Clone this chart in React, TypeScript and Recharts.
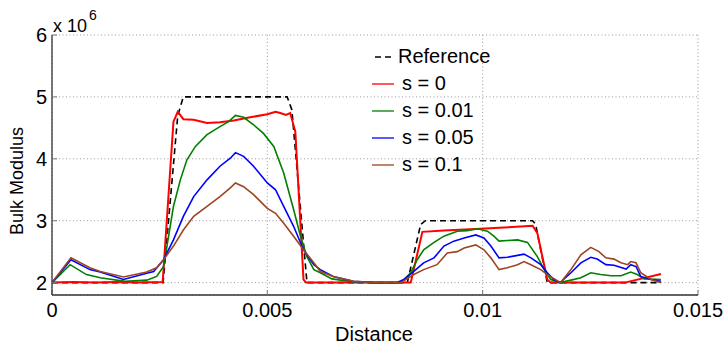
import React from "react";
import { LineChart, Line, XAxis, YAxis, CartesianGrid, Label } from "recharts";

// distances (m) and bulk modulus (x 10^6)
const refDist = [0, 0.00258, 0.00292, 0.00305, 0.00546, 0.00557, 0.00592, 0.00825, 0.00856, 0.00867, 0.01116, 0.01123, 0.0115, 0.0141];
const refVals = [2, 2, 4.7, 5, 5, 4.79, 2, 2, 2.94, 3, 3, 2.94, 2, 2];

const s0Dist = [0, 0.0005, 0.001, 0.0015, 0.002, 0.00257, 0.00282, 0.00292, 0.00305, 0.00329, 0.0036, 0.0039, 0.00422, 0.0046, 0.005, 0.00519, 0.0053, 0.00543, 0.00553, 0.00565, 0.00584, 0.0059, 0.007, 0.00833, 0.0086, 0.0091, 0.00995, 0.0105, 0.01116, 0.01127, 0.0115, 0.01158, 0.0125, 0.0133, 0.01414];
const s0Vals = [2, 2.01, 2, 2.01, 2, 2.01, 4.6, 4.76, 4.64, 4.63, 4.58, 4.59, 4.62, 4.67, 4.72, 4.76, 4.74, 4.71, 4.74, 4.44, 2.05, 2, 2, 2, 2.82, 2.84, 2.87, 2.89, 2.92, 2.8, 2.05, 2, 2, 2, 2.14];

const s001Dist = [0, 0.00042, 0.0008, 0.00112, 0.0017, 0.0022, 0.00243, 0.00259, 0.00267, 0.00282, 0.00298, 0.00313, 0.00333, 0.0036, 0.0039, 0.0041, 0.00426, 0.00445, 0.00468, 0.00491, 0.00515, 0.00538, 0.00561, 0.00577, 0.00592, 0.00608, 0.00623, 0.0065, 0.007, 0.0075, 0.0081, 0.00817, 0.00833, 0.00848, 0.00863, 0.00887, 0.0091, 0.00941, 0.00964, 0.00988, 0.01011, 0.01026, 0.01038, 0.01057, 0.01081, 0.01104, 0.01127, 0.01143, 0.01158, 0.0118, 0.01205, 0.01228, 0.01251, 0.01274, 0.01298, 0.01321, 0.01344, 0.01359, 0.01375, 0.01414];
const s001Vals = [2, 2.29, 2.13, 2.08, 2.02, 2.04, 2.1, 2.26, 2.59, 3.23, 3.66, 3.98, 4.2, 4.39, 4.52, 4.6, 4.7, 4.67, 4.55, 4.41, 4.2, 3.77, 3.18, 2.75, 2.42, 2.21, 2.16, 2.06, 2.01, 2, 2, 2.05, 2.16, 2.37, 2.53, 2.65, 2.75, 2.83, 2.84, 2.87, 2.83, 2.75, 2.67, 2.68, 2.69, 2.65, 2.42, 2.21, 2.05, 2, 2.04, 2.08, 2.16, 2.13, 2.11, 2.11, 2.17, 2.13, 2.06, 2.05];

const s005Dist = [0, 0.00044, 0.00088, 0.00112, 0.00166, 0.0022, 0.00236, 0.00259, 0.00282, 0.00305, 0.00329, 0.0036, 0.0039, 0.00414, 0.00426, 0.00445, 0.00468, 0.005, 0.00519, 0.00538, 0.00561, 0.00584, 0.00608, 0.00623, 0.00653, 0.007, 0.0075, 0.008, 0.00817, 0.0084, 0.00863, 0.00887, 0.0091, 0.00933, 0.00957, 0.00984, 0.01003, 0.01019, 0.01038, 0.01057, 0.01081, 0.01096, 0.01112, 0.01135, 0.0115, 0.01165, 0.0118, 0.01205, 0.01228, 0.01251, 0.01266, 0.01286, 0.01305, 0.01333, 0.01344, 0.01356, 0.01367, 0.01391, 0.01414];
const s005Vals = [2, 2.37, 2.21, 2.17, 2.05, 2.15, 2.18, 2.37, 2.69, 3.07, 3.39, 3.66, 3.88, 4.01, 4.1, 4.04, 3.88, 3.61, 3.5, 3.23, 2.91, 2.53, 2.29, 2.21, 2.1, 2.02, 2, 2, 2.05, 2.18, 2.32, 2.4, 2.59, 2.67, 2.72, 2.77, 2.72, 2.59, 2.4, 2.41, 2.44, 2.46, 2.4, 2.29, 2.16, 2.05, 2, 2.16, 2.32, 2.41, 2.38, 2.29, 2.28, 2.22, 2.29, 2.26, 2.1, 2.05, 2.02];

const s01Dist = [0, 0.00044, 0.00088, 0.00112, 0.00166, 0.0022, 0.00243, 0.00259, 0.00282, 0.00305, 0.00329, 0.0036, 0.0039, 0.00414, 0.00426, 0.00445, 0.00468, 0.005, 0.00519, 0.00538, 0.00561, 0.00584, 0.00608, 0.00623, 0.00653, 0.007, 0.0075, 0.0081, 0.0084, 0.00863, 0.00894, 0.00918, 0.00941, 0.00957, 0.00984, 0.01003, 0.01019, 0.01038, 0.01057, 0.01081, 0.01096, 0.01112, 0.01135, 0.0115, 0.01181, 0.01205, 0.01228, 0.01251, 0.0127, 0.01286, 0.01305, 0.01321, 0.01337, 0.01344, 0.01356, 0.01367, 0.01391, 0.01414];
const s01Vals = [2, 2.4, 2.24, 2.18, 2.09, 2.17, 2.24, 2.37, 2.59, 2.85, 3.07, 3.23, 3.39, 3.53, 3.61, 3.55, 3.42, 3.2, 3.12, 2.96, 2.75, 2.53, 2.32, 2.18, 2.1, 2.02, 2, 2, 2.13, 2.21, 2.29, 2.48, 2.5, 2.56, 2.61, 2.53, 2.4, 2.21, 2.24, 2.29, 2.34, 2.29, 2.21, 2.13, 2, 2.21, 2.45, 2.57, 2.5, 2.4, 2.38, 2.32, 2.29, 2.34, 2.32, 2.16, 2.05, 2];

const xTicks = [0, 0.005, 0.01, 0.015];
const yTicks = [2, 3, 4, 5, 6];

const seriesNames = ["Reference", "s = 0", "s = 0.01", "s = 0.05", "s = 0.1"];
const seriesColors = ["#000000", "#ff0000", "#008000", "#0000ff", "#9c4520"];

const zip = (d: number[], v: number[]) => d.map((x, i) => ({ d: x, v: v[i] }));
const seriesData = [
  zip(refDist, refVals),
  zip(s0Dist, s0Vals),
  zip(s001Dist, s001Vals),
  zip(s005Dist, s005Vals),
  zip(s01Dist, s01Vals),
];

const FONT = '"Liberation Sans", Arial, Helvetica, sans-serif';

// legend drawn as an overlay so it doesn't eat into the plot area
function LegendBox() {
  return (
    <div style={{ position: "absolute", left: 371, top: 43, fontFamily: FONT, fontSize: 20, color: "#000" }}>
      {seriesNames.map((name, i) => (
        <div key={name} style={{ display: "flex", alignItems: "center", height: 27 }}>
          <svg width={26} height={10} style={{ flex: "none" }}>
            {i === 0 ? (
              <line x1={4} x2={22} y1={5} y2={5} stroke="#000" strokeWidth={1.3} strokeDasharray="6 4" />
            ) : (
              <line x1={1} x2={23} y1={5} y2={5} stroke={seriesColors[i]} strokeWidth={1.3} />
            )}
          </svg>
          <span style={{ marginLeft: i === 0 ? 1 : 5, lineHeight: "27px" }}>{name}</span>
        </div>
      ))}
    </div>
  );
}

export default function App() {
  return (
    <div style={{ position: "absolute", left: 0, top: 0, width: 727, height: 352, background: "#fff" }}>
      <LineChart width={727} height={352} margin={{ top: 35, right: 29, bottom: 0, left: 0 }}>
        <CartesianGrid stroke="#9a9a9a" strokeDasharray="1 2.5" />
        <XAxis
          dataKey="d"
          type="number"
          domain={[0, 0.015]}
          ticks={xTicks}
          height={57}
          tickSize={-5}
          tickMargin={13}
          tickLine={{ stroke: "#777" }}
          axisLine={{ stroke: "#333", strokeWidth: 1.3 }}
          tick={{ fill: "#000", fontSize: 20, fontFamily: FONT }}
          allowDataOverflow
        >
          <Label
            content={() => (
              <text x={374} y={341} textAnchor="middle" fontSize={20} fontFamily={FONT} fill="#000">
                Distance
              </text>
            )}
          />
        </XAxis>
        <YAxis
          dataKey="v"
          type="number"
          domain={[1.8, 6]}
          ticks={yTicks}
          width={52}
          tickSize={-5}
          tickMargin={10}
          tickLine={{ stroke: "#777" }}
          axisLine={{ stroke: "#333", strokeWidth: 1.3 }}
          tick={{ fill: "#000", fontSize: 20, fontFamily: FONT }}
          allowDataOverflow
        >
          <Label
            content={() => (
              <g>
                <text x={23} y={181} transform="rotate(-90 23 181)" textAnchor="middle" fontSize={18} fontFamily={FONT} fill="#000">
                  Bulk Modulus
                </text>
                <text x={53} y={32} fontSize={18} fontFamily={FONT} fill="#000">
                  x 10
                  <tspan dx={2} dy={-12} fontSize={14}>6</tspan>
                </text>
              </g>
            )}
          />
        </YAxis>
        {seriesData.map((data, i) => (
          <Line
            key={seriesNames[i]}
            data={data}
            dataKey="v"
            name={seriesNames[i]}
            type="linear"
            stroke={seriesColors[i]}
            strokeWidth={i === 1 ? 2 : 1.6}
            strokeDasharray={i === 0 ? "6 4" : undefined}
            dot={false}
            activeDot={false}
            isAnimationActive={false}
          />
        ))}
      </LineChart>
      <LegendBox />
    </div>
  );
}
